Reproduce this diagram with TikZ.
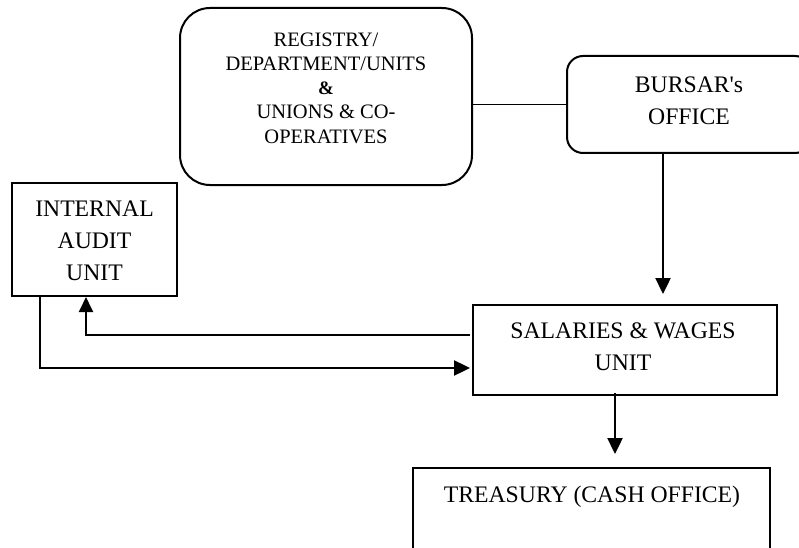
\documentclass[tikz,border=0pt]{standalone}
\usepackage{fontspec}
\setmainfont{Liberation Serif}[Ligatures=TeXOff]
\usetikzlibrary{arrows.meta}
\begin{document}
\begin{tikzpicture}[x=1pt,y=1pt,
  box/.style={draw, line width=2pt, inner sep=0pt},
  txt/.style={align=center, inner sep=0pt, anchor=base, font=\fontsize{23.7}{32}\selectfont},
  conn/.style={line width=1.4pt},
  arr/.style={line width=2.4pt, -{Triangle[length=16pt,width=15pt]}},
  arrthin/.style={line width=1.9pt, -{Triangle[length=15pt,width=14pt]}}]
\useasboundingbox (0,0) rectangle (799,547);
\clip (0,0) rectangle (799,547);
% boxes
\node[box, rounded corners=30pt, minimum width=292pt, minimum height=177pt] (reg) at (326,450.5) {};
\node[box, rounded corners=16pt, minimum width=244pt, minimum height=97pt] (bur) at (689,442.5) {};
\node[box, minimum width=165pt, minimum height=113pt] (aud) at (94.5,307.5) {};
\node[box, minimum width=304pt, minimum height=90pt] (sal) at (625,197) {};
\node[box, minimum width=357pt, minimum height=92pt] (tre) at (591.5,33) {};
% texts (anchor base = baseline of the last line)
\node[txt, font=\fontsize{20.5}{24.1}\selectfont] (regtext) at (326,403.9)
  {REGISTRY/\\DEPARTMENT/UNITS\\{\fontsize{19}{24.1}\selectfont\bfseries\&}\\UNIONS \& CO-\\OPERATIVES};
\node[txt] (burtext) at (689,422) {BURSAR's\\OFFICE};
\node[txt] (audtext) at (94.5,267) {INTERNAL\\AUDIT\\UNIT};
\node[txt] (saltext) at (623,177) {SALARIES \& WAGES\\UNIT};
\node[txt] (tretext) at (592,45) {TREASURY (CASH OFFICE)};
% connectors
\draw[conn] (reg.east |- bur.west) -- (bur.west);
\draw[arr, shorten >=10pt] ([xshift=-26pt]bur.south) -- ([xshift=-26pt]bur.south |- sal.north);
\draw[arrthin] ([yshift=15pt,xshift=-2pt]sal.west) -| ([xshift=-8.5pt]aud.south);
\draw[arr] ([xshift=-54.5pt]aud.south) |- ([yshift=-18pt,xshift=-2pt]sal.west);
\draw[arr, shorten >=13pt] ([xshift=-10pt,yshift=3pt]sal.south) -- ([xshift=-10pt]sal.south |- tre.north);
\end{tikzpicture}
\end{document}
